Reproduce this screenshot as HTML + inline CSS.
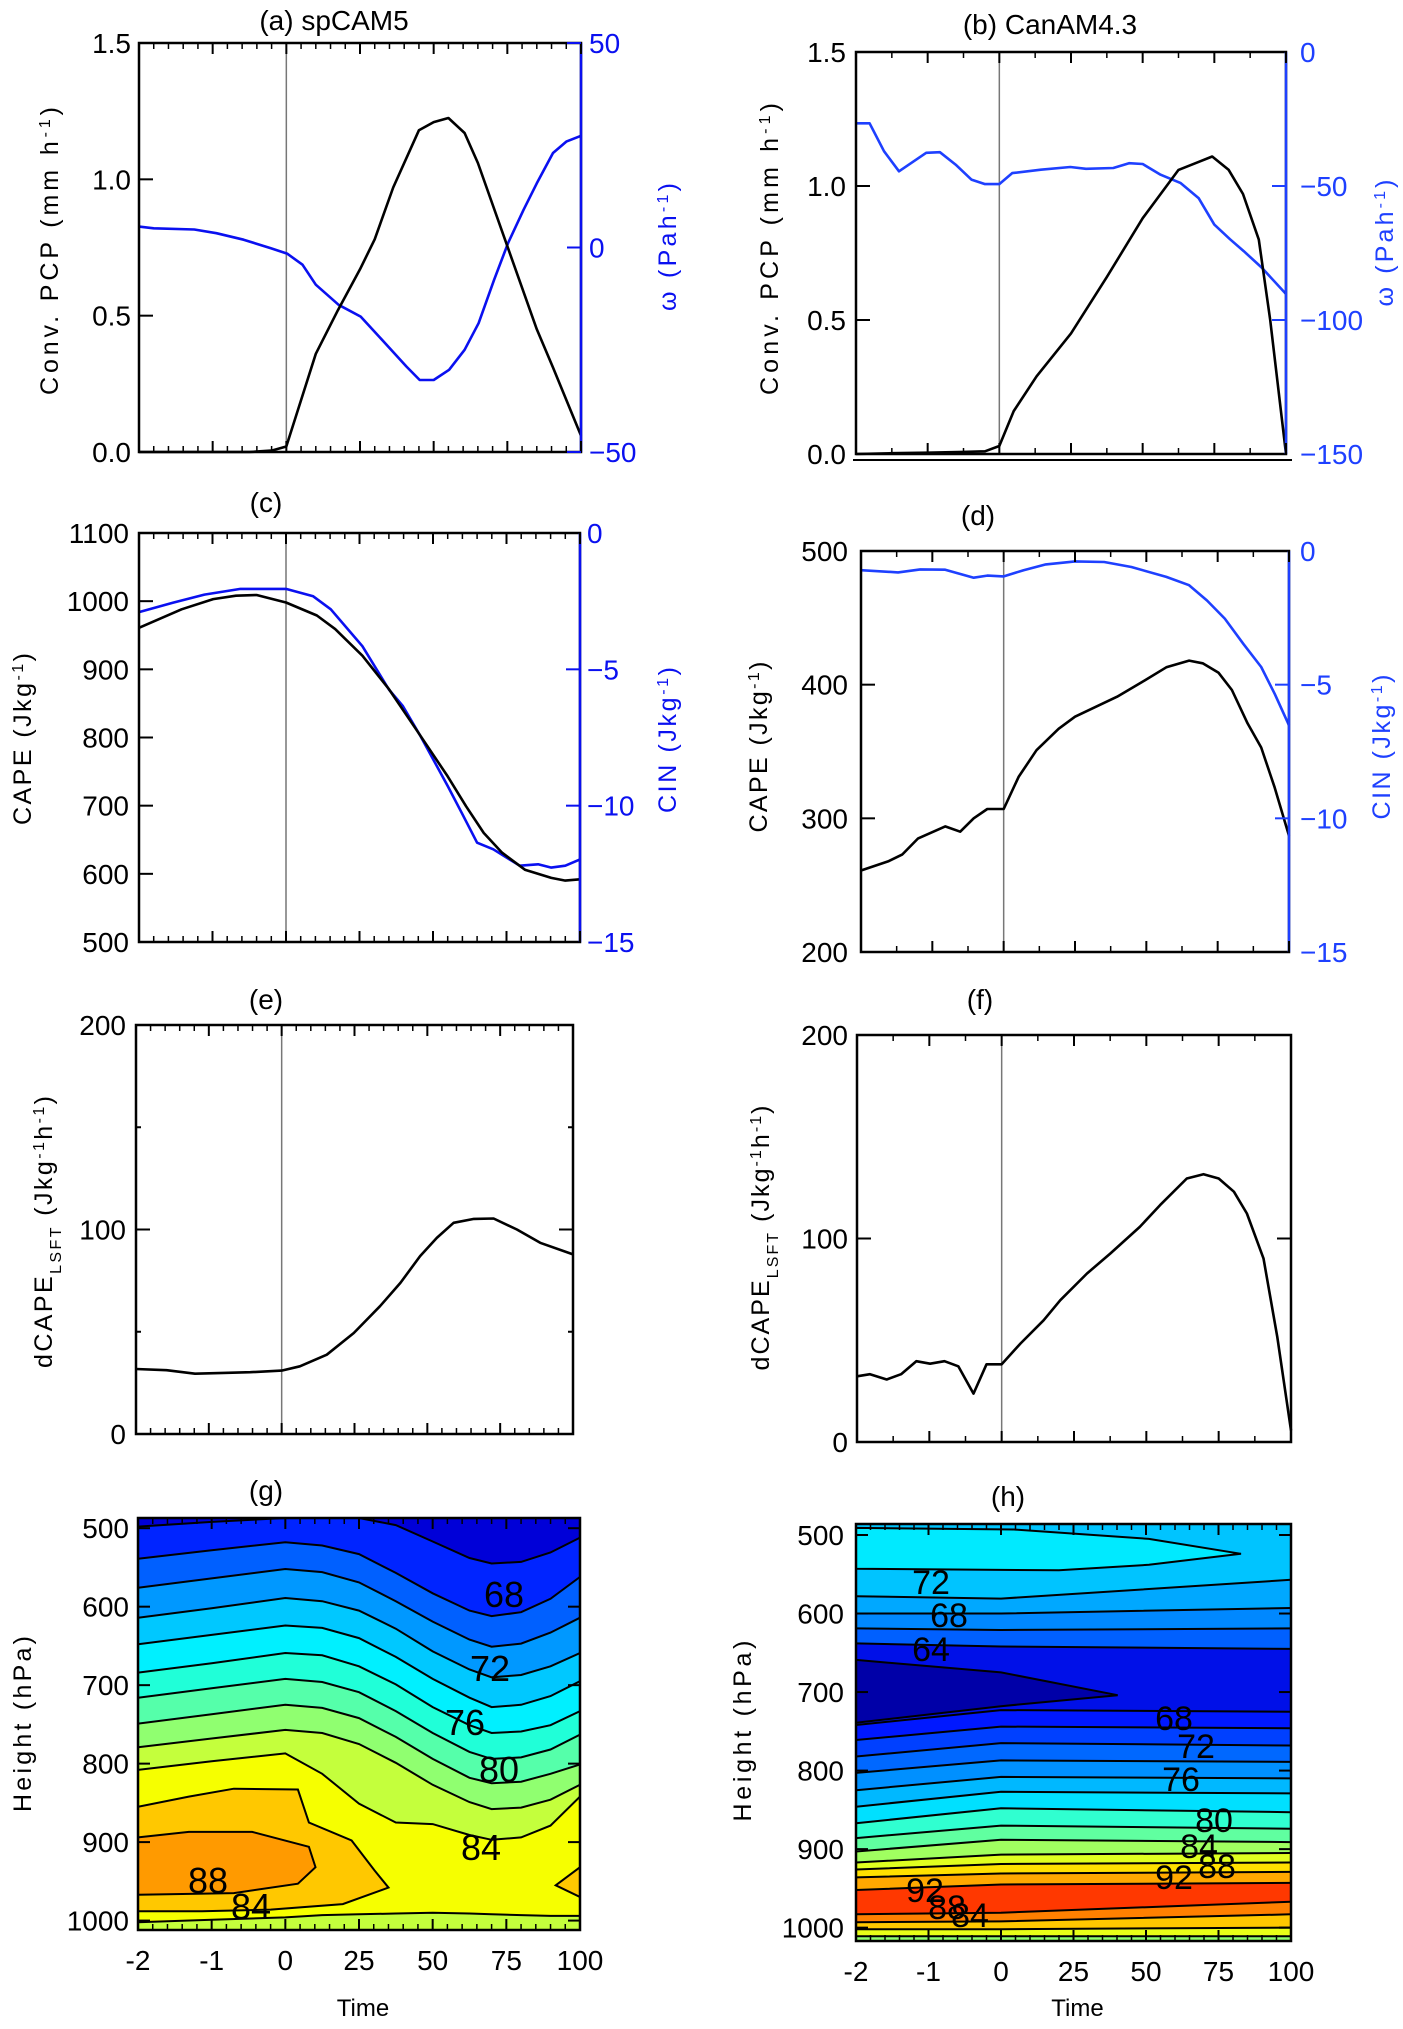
<!DOCTYPE html>
<html><head><meta charset="utf-8">
<style>
html,body{margin:0;padding:0;background:#fff;}
svg{display:block;font-family:"Liberation Sans",Arial,sans-serif;}
</style></head>
<body>
<svg id="fig" xmlns="http://www.w3.org/2000/svg" width="1403" height="2029" viewBox="0 0 1403 2029">
<rect x="0" y="0" width="1403" height="2029" fill="#fff"/>
</svg>
<script>
// ---------- DATA ----------
// panel (a) spCAM5
const tA_pcp = [-2,-1.5,-1,-0.5,-0.2,0,10,17.5,25,30,36.25,45,50,55,60.5,65,75,85,90.5,100];
const vA_pcp = [0,0,0,0,0.005,0.02,0.36,0.52,0.67,0.78,0.97,1.18,1.21,1.225,1.17,1.06,0.755,0.45,0.31,0.06];
const tA_omega = [-2,-1.8,-1.25,-0.95,-0.58,-0.21,0.25,5.5,10,17.75,25.25,31.5,40.75,45.25,50,55.25,60.5,65.25,70.5,75.25,80.5,85,90.5,95,100];
const vA_omega = [5.1,4.7,4.4,3.5,1.9,-0.2,-1.5,-4.2,-9.1,-14,-16.9,-21.8,-29.1,-32.4,-32.4,-29.9,-25,-18.5,-7.9,1.1,9.2,15.7,23.1,25.9,27.3];
// panel (b) CanAM4.3
const tB_pcp = [-2,-1.5,-1,-0.5,-0.2,0,5,13,25,37.5,50,62.5,69.5,74.25,80,85,90.5,94.5,100];
const vB_pcp = [0,0.003,0.005,0.008,0.01,0.03,0.16,0.29,0.45,0.66,0.88,1.06,1.09,1.11,1.06,0.97,0.8,0.5,0.0];
const tB_omega = [-2,-1.81,-1.61,-1.4,-1.02,-0.83,-0.61,-0.39,-0.2,0,4.5,14.5,24.75,30.25,39.75,45.25,50,56.25,63.25,69.5,75,80.5,85.25,91.5,100];
const vB_omega = [-26.6,-26.6,-37,-44.5,-37.6,-37.4,-42,-47.6,-49.3,-49.3,-45.2,-43.9,-42.9,-43.6,-43.3,-41.5,-41.8,-45.8,-48.9,-54.5,-64.4,-69.9,-74.3,-80.4,-90.3];
// panel (c)
const tC_cape = [-2,-1.42,-0.99,-0.68,-0.4,0,10.5,16.75,26,35,44.25,55,61.25,67.25,73.5,81.25,90.25,95,100];
const vC_cape = [961,988,1003,1008,1009,998,979,959,920,871,812,743,699,660,631,606,594,590,592];
const tC_cin = [-2,-1.54,-1.11,-0.62,0,9.25,15.25,26,35,39.75,45.75,55,59.75,65,70.5,79.5,85.75,90.25,95,100];
const vC_cin = [-2.9,-2.56,-2.26,-2.05,-2.05,-2.32,-2.8,-4.15,-5.74,-6.35,-7.45,-9.28,-10.26,-11.36,-11.6,-12.2,-12.15,-12.27,-12.2,-11.97];
// panel (d)
const tD_cape = [-2,-1.61,-1.42,-1.2,-0.82,-0.61,-0.42,-0.23,0,5.25,11.5,19.25,25,39.75,49.25,57,65,69.75,75.25,80,85.5,90.25,95,100];
const vD_cape = [261,268,273,285,294,290,300,307,307,331,351,367,376,391,403,413,418,416,409,396,371,353,323,287];
const tD_cin = [-2,-1.48,-1.17,-0.82,-0.42,-0.23,0,7,14.75,25,35.25,44.75,57,65,71.25,77.5,84,90.25,95,100];
const vD_cin = [-0.72,-0.8,-0.69,-0.7,-1.0,-0.92,-0.95,-0.72,-0.5,-0.39,-0.41,-0.6,-0.97,-1.28,-1.85,-2.53,-3.47,-4.34,-5.34,-6.52];
// panel (e)
const tE = [-2,-1.58,-1.19,-0.8,-0.43,0,6.25,15.5,24.75,33.75,40.75,47.5,53.25,59,66,72.75,80.75,88.75,100];
const vE = [31.8,31.2,29.5,29.9,30.2,31,33.1,38.8,49.4,62.5,73.9,87,95.9,103.3,105.2,105.4,100,93.5,87.8];
// panel (f)
const tF = [-2,-1.82,-1.59,-1.39,-1.18,-0.99,-0.79,-0.6,-0.39,-0.21,0,6.5,14.5,20.25,29.5,37.5,47.75,54.75,64,69.75,75,80.25,84.75,90.5,95.25,100];
const vF = [32.3,33.3,30.7,33.3,39.7,38.5,39.7,37.2,23.8,38.2,38.2,48.4,59.8,69.7,82.8,92.6,105.7,116.4,129.5,131.6,129.5,123,112.3,90.2,51.6,5.7];
// x tick labels
const xTickVals = [-2,-1,0,25,50,75,100];
const xTickLabels = ["-2","-1","0","25","50","75","100"];
// panel (g) contours: pressure (hPa) of each contour line at column times
const tG = [-2,-1,0,12.5,25,37.5,50,62.5,70,80,90,100];
const gLine1 = [498,492,487,487,487,496,517,538,545,543,531,512];
const gLine2 = [539,528,518,522,533,557,583,605,612,607,590,562];
const gLine3 = [576,564,552,556,569,593,619,642,651,647,633,614];
const gLine4 = [614,602,589,593,605,628,657,680,690,687,676,659];
const gLine5 = [648,636,624,627,640,664,692,716,728,725,714,695];
const gLine6 = [684,672,659,662,676,699,728,751,761,759,751,733];
const gLine7 = [716,704,692,696,709,733,761,785,794,792,782,763];
const gLine8 = [749,737,725,729,742,766,794,818,825,823,813,801];
const gLine9 = [779,768,757,761,775,799,827,849,858,856,846,827];
const gLine10 = [808,797,787,813,851,875,877,891,897,894,879,842];
const gLine11 = [1002,999,996,993,992,991,990,991,992,993,994,994];
const gBlobGoldT = [-2,-1.31,-0.7,4.25,8,22.5,30.25,35,19.5,-0.2,-1.13,-2];
const gBlobGoldP = [855,842,832,833,875,898,936,958,979,986,988,988];
const gBlobOrangeT = [-2,-1.31,-0.45,8,10.25,4.25,-0.7,-2];
const gBlobOrangeP = [894,887,887,906,932,953,965,967];
const gBlobRightT = [100,91.75,100];
const gBlobRightP = [932,955,970];
// panel (h) contours
const tH = [-2,0,100];
const hLineA = [578,581,557];
const hLineB = [600,600,593];
const hLineC = [619,621,619];
const hLineD = [638,642,645];
const hLineF1 = [742,723,725];
const hLineF2 = [761,744,746];
const hLineF3 = [782,765,768];
const hLineF4 = [803,787,789];
const hLineF5 = [825,808,810];
const hLineF6 = [846,827,829];
const hLineF7 = [867,848,853];
const hLineF8 = [886,870,874];
const hLineF9 = [903,888,891];
const hLineF10 = [917,907,905];
const hLineF11 = [926,919,917];
const hLineF12 = [936,931,929];
const hLineF13 = [952,945,943];
const hLineF14 = [983,981,967];
const hLineF15 = [993,992,983];
const hLineF16 = [1002,1002,1000];
const hLineF17 = [1011,1011,1011];
const hLensT = [-2,4.5,51,82.75,51,20,-2];
const hLensP = [491,493,505,524,538,545,543];
const hWedgeT = [-2,0,40.25,0,-2];
const hWedgeP = [659,675,704,718,739];

// ---------- helpers ----------
const NS = "http://www.w3.org/2000/svg";
const svg = document.getElementById('fig');
function mk(tag, attrs, parent){
  const e = document.createElementNS(NS, tag);
  for (const k in attrs) e.setAttribute(k, attrs[k]);
  (parent||svg).appendChild(e);
  return e;
}
function tIdx(t){ return t <= 0 ? t + 2 : 2 + t / 25; }
function xScale(P, t){ return P.L + tIdx(t) / 6 * (P.R - P.L); }
function yScale(P, v, lo, hi){ return P.B - (v - lo) / (hi - lo) * (P.B - P.T); }
function yPres(P, p){ return P.T + (p - P.pTop) / (P.pBot - P.pTop) * (P.B - P.T); }

function xTicks(P, g, minorPer){
  for (let i = 0; i <= 6; i++){
    const x = P.L + i / 6 * (P.R - P.L);
    for (const [y0, d] of [[P.B, -1],[P.T, 1]]){
      const t = mk('line',{x1:x,x2:x,y1:y0,y2:y0+d*11,stroke:'#000','stroke-width':2},g);
      
      
    }
    if (i < 6){
      for (let j = 1; j < minorPer; j++){
        const xm = x + j / minorPer / 6 * (P.R - P.L);
        for (const [y0, d] of [[P.B, -1],[P.T, 1]]){
          const t = mk('line',{x1:xm,x2:xm,y1:y0,y2:y0+d*6,stroke:'#000','stroke-width':1.5},g);
          
          
        }
      }
    }
  }
}
function yTicks(P, g, vals, lo, hi, side, color, len){
  for (const v of vals){
    const y = yScale(P, v, lo, hi);
    const x0 = side === 'L' ? P.L : P.R;
    const d = side === 'L' ? 1 : -1;
    const t = mk('line',{x1:x0,x2:x0+d*(len||14),y1:y,y2:y,stroke:color,'stroke-width':2},g);
    
    
  }
}
function yLabels(P, g, vals, labels, lo, hi, x, anchor, color, name){
  vals.forEach((v, i) => {
    const y = yScale(P, v, lo, hi);
    const t = mk('text',{x:x,y:y+10,'text-anchor':anchor,'font-size':28,fill:color},g);
    t.textContent = labels[i];
    
    
  });
}
function rotTitle(g, cx, cy, len, parts, color, name){
  const t = mk('text',{x:cx,y:cy,'text-anchor':'middle','font-size':25,fill:color,
    transform:`rotate(-90 ${cx} ${cy})`,textLength:len,lengthAdjust:'spacing'},g);
  
  
  parts.forEach(p => {
    const s = document.createElementNS(NS,'tspan');
    s.textContent = p[0];
    if (p[1] === 'sup'){ s.setAttribute('font-size','16'); s.setAttribute('baseline-shift','super'); }
    if (p[1] === 'sub'){ s.setAttribute('font-size','16'); s.setAttribute('baseline-shift','sub'); }
    t.appendChild(s);
  });
  return t;
}
function panelTitle(g, x, y, txt, name){
  const t = mk('text',{x:x,y:y,'text-anchor':'middle','font-size':28,fill:'#000'},g);
  t.textContent = txt;
  
  
}
function series(P, g, ts, vs, lo, hi, color, name){
  const pts = ts.map((t, i) => xScale(P, t).toFixed(1) + ',' + yScale(P, vs[i], lo, hi).toFixed(1)).join(' ');
  const l = mk('polyline',{points:pts,fill:'none',stroke:color,'stroke-width':2.6,'stroke-linejoin':'round'},g);
  
  
}
function frame(P, g, rightColor){
  const r = mk('rect',{x:P.L,y:P.T,width:P.R-P.L,height:P.B-P.T,fill:'none',stroke:'#000','stroke-width':2.5},g);
  
  
  if (rightColor){
    const rl = mk('line',{x1:P.R,x2:P.R,y1:P.T,y2:P.B,stroke:rightColor,'stroke-width':2.5},g);
    
    
  }
}
function zeroLine(P, g){
  const x = xScale(P, 0);
  const l = mk('line',{x1:x,x2:x,y1:P.T,y2:P.B,stroke:'#777','stroke-width':1.5},g);
  
  
}
function group(name){
  const g = mk('g',{});
  
  
  return g;
}

// ---------- panel (a) ----------
(function(){
  const P = {L:139,R:581,T:43,B:452};
  const g = group('panel-a');
  panelTitle(g, 334, 30, '(a) spCAM5', 'panel-a-title');
  zeroLine(P, g);
  series(P, g, tA_omega, vA_omega, -50, 50, '#0a10f0', 'omega-line-spcam5');
  series(P, g, tA_pcp, vA_pcp, 0, 1.5, '#000', 'pcp-line-spcam5');
  frame(P, g, '#0a10f0');
  xTicks(P, g, 5);
  yTicks(P, g, [0.5,1.0], 0, 1.5, 'L', '#000');
  yTicks(P, g, [-50,0,50], -50, 50, 'R', '#0a10f0');
  yLabels(P, g, [0,0.5,1,1.5], ['0.0','0.5','1.0','1.5'], 0, 1.5, 131, 'end', '#000', 'left-y-label');
  yLabels(P, g, [-50,0,50], ['\u221250','0','50'], -50, 50, 589, 'start', '#0a10f0', 'right-y-label');
  rotTitle(g, 58, 251, 288, [['Conv.  PCP  (mm  h'],['-1','sup'],[')']], '#000', 'y-axis-title-pcp');
  rotTitle(g, 676, 247, 128, [['\u03c9 (Pah'],['-1','sup'],[')']], '#0a10f0', 'y-axis-title-omega');
})();

// ---------- panel (b) ----------
(function(){
  const P = {L:856,R:1286,T:52,B:454};
  const g = group('panel-b');
  panelTitle(g, 1050, 34, '(b) CanAM4.3', 'panel-b-title');
  zeroLine(P, g);
  series(P, g, tB_omega, vB_omega, -150, 0, '#1e40ff', 'omega-line-canam');
  series(P, g, tB_pcp, vB_pcp, 0, 1.5, '#000', 'pcp-line-canam');
  frame(P, g, '#1e40ff');
  const bl = mk('line',{x1:853,x2:1292,y1:460,y2:460,stroke:'#000','stroke-width':2},g);
  
  
  xTicks(P, g, 2);
  yTicks(P, g, [0.5,1.0], 0, 1.5, 'L', '#000');
  yTicks(P, g, [-100,-50], -150, 0, 'R', '#1e40ff');
  yLabels(P, g, [0,0.5,1,1.5], ['0.0','0.5','1.0','1.5'], 0, 1.5, 846, 'end', '#000', 'left-y-label');
  yLabels(P, g, [-150,-100,-50,0], ['\u2212150','\u2212100','\u221250','0'], -150, 0, 1300, 'start', '#1e40ff', 'right-y-label');
  rotTitle(g, 778, 249, 292, [['Conv.  PCP  (mm  h'],['-1','sup'],[')']], '#000', 'y-axis-title-pcp');
  rotTitle(g, 1393, 243, 127, [['\u03c9 (Pah'],['-1','sup'],[')']], '#1e40ff', 'y-axis-title-omega');
})();

// ---------- panel (c) ----------
(function(){
  const P = {L:139,R:580,T:533,B:942};
  const g = group('panel-c');
  panelTitle(g, 266, 512, '(c)', 'panel-c-title');
  zeroLine(P, g);
  series(P, g, tC_cin, vC_cin, -15, 0, '#0a10f0', 'cin-line-spcam5');
  series(P, g, tC_cape, vC_cape, 500, 1100, '#000', 'cape-line-spcam5');
  frame(P, g, '#0a10f0');
  xTicks(P, g, 5);
  yTicks(P, g, [600,700,800,900,1000], 500, 1100, 'L', '#000');
  yTicks(P, g, [-10,-5], -15, 0, 'R', '#0a10f0');
  yLabels(P, g, [500,600,700,800,900,1000,1100], ['500','600','700','800','900','1000','1100'], 500, 1100, 129, 'end', '#000', 'left-y-label');
  yLabels(P, g, [-15,-10,-5,0], ['\u221215','\u221210','\u22125','0'], -15, 0, 587, 'start', '#0a10f0', 'right-y-label');
  rotTitle(g, 31, 739, 172, [['CAPE  (Jkg'],['-1','sup'],[')']], '#000', 'y-axis-title-cape');
  rotTitle(g, 676, 740, 146, [['CIN  (Jkg'],['-1','sup'],[')']], '#0a10f0', 'y-axis-title-cin');
})();

// ---------- panel (d) ----------
(function(){
  const P = {L:861,R:1289,T:551,B:952};
  const g = group('panel-d');
  panelTitle(g, 978, 525, '(d)', 'panel-d-title');
  zeroLine(P, g);
  series(P, g, tD_cin, vD_cin, -15, 0, '#1e40ff', 'cin-line-canam');
  series(P, g, tD_cape, vD_cape, 200, 500, '#000', 'cape-line-canam');
  frame(P, g, '#1e40ff');
  xTicks(P, g, 2);
  yTicks(P, g, [300,400], 200, 500, 'L', '#000');
  yTicks(P, g, [-10,-5], -15, 0, 'R', '#1e40ff');
  yLabels(P, g, [200,300,400,500], ['200','300','400','500'], 200, 500, 848, 'end', '#000', 'left-y-label');
  yLabels(P, g, [-15,-10,-5,0], ['\u221215','\u221210','\u22125','0'], -15, 0, 1300, 'start', '#1e40ff', 'right-y-label');
  rotTitle(g, 767, 747, 171, [['CAPE  (Jkg'],['-1','sup'],[')']], '#000', 'y-axis-title-cape');
  rotTitle(g, 1390, 747, 145, [['CIN  (Jkg'],['-1','sup'],[')']], '#1e40ff', 'y-axis-title-cin');
})();

// ---------- panel (e) ----------
(function(){
  const P = {L:136,R:573,T:1025,B:1434};
  const g = group('panel-e');
  panelTitle(g, 266, 1009, '(e)', 'panel-e-title');
  zeroLine(P, g);
  series(P, g, tE, vE, 0, 200, '#000', 'dcape-line-spcam5');
  frame(P, g);
  xTicks(P, g, 5);
  yTicks(P, g, [100], 0, 200, 'L', '#000');
  yTicks(P, g, [100], 0, 200, 'R', '#000');
  yTicks(P, g, [50,150], 0, 200, 'L', '#000', 5);
  yTicks(P, g, [50,150], 0, 200, 'R', '#000', 5);
  yLabels(P, g, [0,100,200], ['0','100','200'], 0, 200, 126, 'end', '#000', 'left-y-label');
  rotTitle(g, 52, 1232, 272, [['dCAPE'],['LSFT','sub'],['  (Jkg'],['-1','sup'],['h'],['-1','sup'],[')']], '#000', 'y-axis-title-dcape');
})();

// ---------- panel (f) ----------
(function(){
  const P = {L:857,R:1291,T:1035,B:1442};
  const g = group('panel-f');
  panelTitle(g, 980, 1009, '(f)', 'panel-f-title');
  zeroLine(P, g);
  series(P, g, tF, vF, 0, 200, '#000', 'dcape-line-canam');
  frame(P, g);
  xTicks(P, g, 2);
  yTicks(P, g, [100], 0, 200, 'L', '#000');
  yTicks(P, g, [100], 0, 200, 'R', '#000');
  yLabels(P, g, [0,100,200], ['0','100','200'], 0, 200, 848, 'end', '#000', 'left-y-label');
  rotTitle(g, 769, 1238, 265, [['dCAPE'],['LSFT','sub'],['  (Jkg'],['-1','sup'],['h'],['-1','sup'],[')']], '#000', 'y-axis-title-dcape');
})();

// ---------- contour panels ----------
function contourPanel(P, g, ts, lines, colors, bgColor, clipId){
  const cp = mk('clipPath',{id:clipId},g);
  mk('rect',{x:P.L,y:P.T,width:P.R-P.L,height:P.B-P.T},cp);
  const cg = mk('g',{'clip-path':`url(#${clipId})`},g);
  
  
  const bg = mk('rect',{x:P.L,y:P.T,width:P.R-P.L,height:P.B-P.T,fill:bgColor},cg);
  
  
  lines.forEach((ln, i) => {
    const pts = ts.map((t, k) => xScale(P, t).toFixed(1) + ',' + yPres(P, ln[k]).toFixed(1));
    pts.push((P.R+5)+','+(P.B+5), (P.L-5)+','+(P.B+5));
    const pg = mk('polygon',{points:pts.join(' '),fill:colors[i]},cg);
    
    
  });
  return cg;
}
function contourStroke(P, cg, ts, lines){
  lines.forEach(ln => {
    const pts = ts.map((t, k) => xScale(P, t).toFixed(1) + ',' + yPres(P, ln[k]).toFixed(1)).join(' ');
    const l = mk('polyline',{points:pts,fill:'none',stroke:'#000','stroke-width':2},cg);
    
    
  });
}
function blob(P, cg, ts, ps, color, name){
  const pts = ts.map((t, k) => xScale(P, t).toFixed(1) + ',' + yPres(P, ps[k]).toFixed(1)).join(' ');
  const pg = mk('polygon',{points:pts,fill:color,stroke:'#000','stroke-width':2},cg);
  
  
}
function cLabel(g, x, y, txt, size){
  const t = mk('text',{x:x,y:y,'text-anchor':'middle','font-size':size,fill:'#000'},g);
  t.textContent = txt;
  
  
}
function presAxis(P, g, labelX){
  [500,600,700,800,900,1000].forEach(p => {
    const y = yPres(P, p);
    for (const [x0,d] of [[P.L,1],[P.R,-1]]){
      const t = mk('line',{x1:x0,x2:x0+d*12,y1:y,y2:y,stroke:'#000','stroke-width':2},g);
      
      
    }
    const l = mk('text',{x:labelX,y:y+10,'text-anchor':'end','font-size':28,fill:'#000'},g);
    l.textContent = String(p);
    
    
  });
  xTickVals.forEach((t, i) => {
    const l = mk('text',{x:xScale(P,t),y:P.B+40,'text-anchor':'middle','font-size':28,fill:'#000'},g);
    l.textContent = xTickLabels[i];
    
    
  });
  const tt = mk('text',{x:(P.L+P.R)/2+4,y:2016,'text-anchor':'middle','font-size':24,fill:'#000'},g);
  tt.textContent = 'Time';
  
  
}

// (g)
(function(){
  const P = {L:138,R:580,T:1518,B:1930,pTop:487,pBot:1012};
  const g = group('panel-g');
  panelTitle(g, 266, 1500, '(g)', 'panel-g-title');
  const lines = [gLine1,gLine2,gLine3,gLine4,gLine5,gLine6,gLine7,gLine8,gLine9,gLine10,gLine11];
  const colors = ['#0024ff','#0060ff','#0098ff','#00c8ff','#00f0ff','#20ffd8','#55ffaa','#90ff70','#c4ff3c','#f6ff00','#c4ff3c'];
  const cg = contourPanel(P, g, tG, lines, colors, '#0000d8', 'clipG');
  blob(P, cg, gBlobGoldT, gBlobGoldP, '#ffc800', 'contour-blob-86');
  blob(P, cg, gBlobOrangeT, gBlobOrangeP, '#ff9a00', 'contour-blob-88');
  blob(P, cg, gBlobRightT, gBlobRightP, '#ffc800', 'contour-blob-right');
  contourStroke(P, cg, tG, lines);
  [[504,1607,'68'],[490,1681,'72'],[465,1735,'76'],[499,1782,'80'],[481,1860,'84'],[208,1893,'88'],[251,1919,'84']]
    .forEach(a => cLabel(g, a[0], a[1], a[2], 36));
  frame(P, g);
  xTicks(P, g, 5);
  presAxis(P, g, 129);
  rotTitle(g, 31, 1724, 176, [['Height  (hPa)']], '#000', 'y-axis-title-height');
})();

// (h)
(function(){
  const P = {L:856,R:1291,T:1524,B:1941,pTop:486,pBot:1017};
  const g = group('panel-h');
  panelTitle(g, 1008, 1506, '(h)', 'panel-h-title');
  const lines = [hLineA,hLineB,hLineC,hLineD,hLineF1,hLineF2,hLineF3,hLineF4,hLineF5,hLineF6,hLineF7,hLineF8,hLineF9,hLineF10,hLineF11,hLineF12,hLineF13,hLineF14,hLineF15,hLineF16,hLineF17];
  const colors = ['#00a8ff','#0088ff','#0060ff','#0010e8','#0018ff','#0040ff','#0068ff','#0090ff','#00b8ff','#00e0ff','#30ffd0','#60ffa0','#a0ff60','#e0ff20','#ffe000','#ffa800','#ff3800','#ff8000','#ffc800','#e8ff18','#90ff70'];
  const cg = contourPanel(P, g, tH, lines, colors, '#00c4ff', 'clipH');
  blob(P, cg, hLensT, hLensP, '#00eaff', 'contour-lens');
  blob(P, cg, hWedgeT, hWedgeP, '#0000a8', 'contour-wedge');
  contourStroke(P, cg, tH, lines);
  [[931,1594,'72'],[949,1627,'68'],[931,1661,'64'],[1174,1730,'68'],[1196,1758,'72'],[1181,1791,'76'],[1214,1832,'80'],[1199,1858,'84'],[1217,1878,'88'],[1174,1889,'92'],[925,1902,'92'],[947,1919,'88'],[970,1927,'84']]
    .forEach(a => cLabel(g, a[0], a[1], a[2], 34));
  frame(P, g);
  xTicks(P, g, 5);
  presAxis(P, g, 844);
  rotTitle(g, 751, 1731, 181, [['Height  (hPa)']], '#000', 'y-axis-title-height');
})();
</script>
</body></html>
